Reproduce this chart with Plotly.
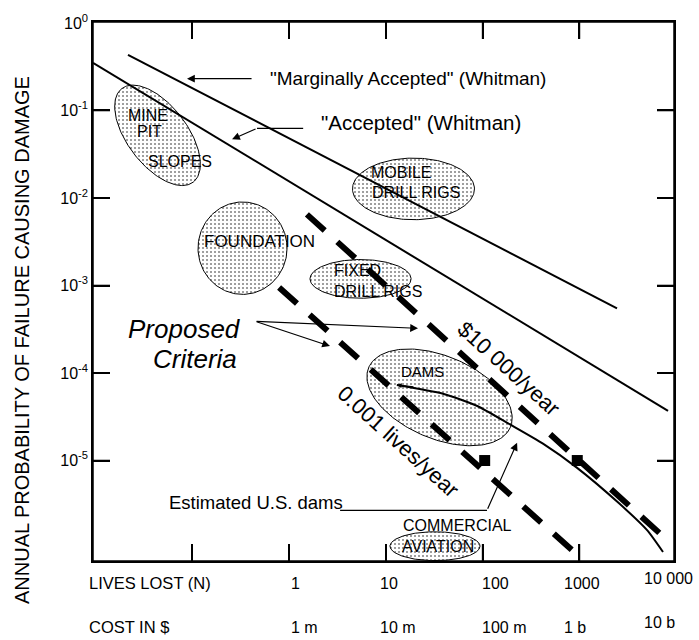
import numpy as np
import plotly.graph_objects as go

# ---------------- data ----------------
y_tick_vals = [1, 1e-1, 1e-2, 1e-3, 1e-4, 1e-5]
y_tick_text = ["10<sup>0</sup>", "10<sup>-1</sup>", "10<sup>-2</sup>",
               "10<sup>-3</sup>", "10<sup>-4</sup>", "10<sup>-5</sup>"]
x_tick_vals = [0.1, 1, 10, 100, 1000]
lives_vals = [1, 10, 100, 1000, 10000]
lives_labels = ["1", "10", "100", "1000", "10 000"]
cost_labels = ["1 m", "10 m", "100 m", "1 b", "10 b"]

# Whitman lines
marg_N = [0.0217, 2445]
marg_P = [0.433, 5.48e-4]
acc_N = [0.00944, 8230]
acc_P = [0.351, 3.70e-5]

# Proposed criteria (dashed)
usd_N = [1.53, 7660]          # $10 000/year
usd_P = [6.5e-3, 1.3e-6]
lives_N = [0.79, 1090]        # 0.001 lives/year
lives_P = [9.5e-4, 7.3e-7]

# Estimated U.S. dams curve
dams_N = [13, 39, 88, 190, 420, 940, 2600, 5000, 7300]
dams_P = [7.3e-5, 5.8e-5, 4.2e-5, 2.6e-5, 1.56e-5, 8.3e-6, 3.2e-6, 1.6e-6, 9.0e-7]

square_N = [105, 950]
square_P = [1e-5, 1e-5]

# shaded regions: centre (N, P), semi-axes (decades), tilt (deg)
region_names = ["mine", "foundation", "mobile", "fixed", "dams", "aviation"]
region_N = [0.0438, 0.331, 19.3, 5.48, 35.9, 32.2]
region_P = [0.052, 2.67e-3, 1.27e-2, 1.19e-3, 5.27e-5, 1.05e-6]
region_a = [0.61, 0.46, 0.63, 0.522, 0.795, 0.465]
region_b = [0.31, 0.48, 0.32, 0.201, 0.429, 0.15]
region_tilt = [53, 0, 0, 0, 23, 0]

# ---------------- figure ----------------
FONT = "Liberation Sans, Arial, Helvetica, sans-serif"
X_RANGE = [-2.025, 3.977]
Y_RANGE = [-6.148, 0.011]
W, H = 699, 640
ML, MR, MT, MB = 93, 25, 19, 79
PW, PH = W - ML - MR, H - MT - MB
px_per_xdec = PW / (X_RANGE[1] - X_RANGE[0])
px_per_ydec = PH / (Y_RANGE[1] - Y_RANGE[0])
k = px_per_xdec / px_per_ydec


def xpaper(v):
    return (np.log10(v) - X_RANGE[0]) / (X_RANGE[1] - X_RANGE[0])


fig = go.Figure()

t = np.linspace(0, 2 * np.pi, 200)
for n, p, a, b, ang in zip(region_N, region_P, region_a, region_b, region_tilt):
    th = np.radians(ang)
    du = a * np.cos(t) * np.cos(th) - b * np.sin(t) * np.sin(th)
    dv = a * np.cos(t) * np.sin(th) + b * np.sin(t) * np.cos(th)
    xs = 10 ** (np.log10(n) + du)
    ys = 10 ** (np.log10(p) - dv * k)
    fig.add_trace(go.Scatter(
        x=xs, y=ys, mode="lines", fill="toself",
        line=dict(color="black", width=1),
        fillcolor="white",
        fillpattern=dict(shape=".", fgcolor="black", bgcolor="white",
                         size=4, solidity=0.2),
        hoverinfo="skip", showlegend=False))

solid = dict(color="black", width=2)
fig.add_trace(go.Scatter(x=marg_N, y=marg_P, mode="lines", line=solid, showlegend=False))
fig.add_trace(go.Scatter(x=acc_N, y=acc_P, mode="lines", line=solid, showlegend=False))
fig.add_trace(go.Scatter(x=dams_N, y=dams_P, mode="lines",
                         line=dict(color="black", width=2, shape="spline", smoothing=0.6),
                         showlegend=False))
dashed = dict(color="black", width=6, dash="24px,17px")
fig.add_trace(go.Scatter(x=usd_N, y=usd_P, mode="lines", line=dashed, showlegend=False))
fig.add_trace(go.Scatter(x=lives_N, y=lives_P, mode="lines", line=dashed, showlegend=False))
fig.add_trace(go.Scatter(x=square_N, y=square_P, mode="markers",
                         marker=dict(symbol="square", size=11, color="black"),
                         showlegend=False))

# leader lines (no arrowhead parts)
thin = dict(color="black", width=1.2)
fig.add_trace(go.Scatter(x=[1.40, 0.467], y=[0.0624, 0.0624], mode="lines", line=thin, showlegend=False))
fig.add_trace(go.Scatter(x=[3.37, 111], y=[2.70e-6, 2.70e-6], mode="lines", line=thin, showlegend=False))

# inward ticks on all four sides, built from tick arrays through the axis scales
TL = 17
xlo, xhi = 10 ** X_RANGE[0], 10 ** X_RANGE[1]
ylo, yhi = 10 ** Y_RANGE[0], 10 ** Y_RANGE[1]
tx, ty = [], []
for v in x_tick_vals:
    tx += [v, v, None, v, v, None]
    ty += [ylo, 10 ** (Y_RANGE[0] + TL / px_per_ydec), None,
           yhi, 10 ** (Y_RANGE[1] - TL / px_per_ydec), None]
for v in y_tick_vals[1:]:
    tx += [xlo, 10 ** (X_RANGE[0] + TL / px_per_xdec), None,
           xhi, 10 ** (X_RANGE[1] - TL / px_per_xdec), None]
    ty += [v, v, None, v, v, None]
fig.add_trace(go.Scatter(x=tx, y=ty, mode="lines", line=dict(color="black", width=1.6),
                         hoverinfo="skip", showlegend=False, cliponaxis=False))

L = np.log10
ann = []


def arrow(tail, tip, size=1.0):
    ann.append(dict(x=L(tip[0]), y=L(tip[1]), ax=L(tail[0]), ay=L(tail[1]),
                    xref="x", yref="y", axref="x", ayref="y", text="",
                    showarrow=True, arrowhead=2, arrowsize=size, arrowwidth=1.2,
                    arrowcolor="black", standoff=0, startstandoff=0))


arrow((0.425, 0.231), (0.0883, 0.231), 1.3)
arrow((0.467, 0.0624), (0.258, 0.0468), 1.3)
arrow((0.446, 3.9e-4), (2.65, 2.03e-4), 1.3)
arrow((0.446, 3.9e-4), (21.5, 3.24e-4), 1.3)
arrow((111, 2.70e-6), (227, 1.6e-5), 1.3)
arrow((20, 6.9e-5), (13, 7.3e-5), 0.8)


def label(txt, n, p, size=16, angle=0, **kw):
    ann.append(dict(x=L(n), y=L(p), xref="x", yref="y", text=txt, showarrow=False,
                    textangle=angle, font=dict(family=FONT, size=size, color="black"), **kw))


label('"Marginally Accepted" (Whitman)', 16.8, 0.231, 19)
label('"Accepted" (Whitman)', 23.1, 0.0731, 20.5)
label("MINE", 0.0349, 0.0877, 16)
label("PIT", 0.0358, 0.0577, 16)
label("SLOPES", 0.0748, 0.0263, 16)
label("FOUNDATION", 0.49, 3.16e-3, 17)
label("MOBILE", 14.4, 0.0197, 16)
label("DRILL RIGS", 20.5, 0.0117, 16)
label("FIXED", 5.04, 1.48e-3, 16)
label("DRILL RIGS", 8.3, 8.55e-4, 16)
label("DAMS", 23.7, 1.05e-4, 15)
label("COMMERCIAL", 54.4, 1.82e-6, 16)
label("AVIATION", 34.6, 1.03e-6, 16)
label("<i>Proposed</i>", 0.0832, 3.16e-4, 26)
label("<i>Criteria</i>", 0.107, 1.44e-4, 26)
label("Estimated U.S. dams", 0.461, 3.33e-6, 18.5)
label("$10 000/year", 187, 1.14e-4, 22, 42)
label("0.001 lives/year", 13.4, 1.64e-5, 22, 42)

# bottom label rows
lives_shift = [0, -8, -3, -17, -34]
lives_yshift = [-22, -22, -22, -22, -17]
cost_yshift = [-66, -66, -66, -66, -61]
for v, lt, ct, xs, ly, cy in zip(lives_vals, lives_labels, cost_labels, lives_shift,
                                 lives_yshift, cost_yshift):
    for txt, ys in ((lt, ly), (ct, cy)):
        ann.append(dict(x=xpaper(v), y=0, xref="paper", yref="paper", text=txt,
                        showarrow=False, xanchor="left", yanchor="middle",
                        xshift=xs, yshift=ys,
                        font=dict(family=FONT, size=16, color="black")))
ann.append(dict(x=0, y=0, xref="paper", yref="paper", text="LIVES LOST (N)", showarrow=False,
                xanchor="left", yanchor="middle", xshift=-6, yshift=-22,
                font=dict(family=FONT, size=16.5, color="black")))
ann.append(dict(x=0, y=0, xref="paper", yref="paper", text="COST IN $", showarrow=False,
                xanchor="left", yanchor="middle", xshift=-6, yshift=-66,
                font=dict(family=FONT, size=16.5, color="black")))
ann.append(dict(x=0, y=0.41, xref="paper", yref="paper",
                text="ANNUAL PROBABILITY OF FAILURE CAUSING DAMAGE", showarrow=False,
                textangle=-90, xanchor="center", yanchor="middle", xshift=-71,
                font=dict(family=FONT, size=20, color="black")))

shapes = [dict(type="rect", xref="paper", yref="paper", x0=0, y0=0, x1=1, y1=1,
               line=dict(color="black", width=1.5), layer="above")]

axis_common = dict(type="log", showgrid=False, zeroline=False, showline=True,
                   linecolor="black", linewidth=1.5, mirror="ticks", ticks="inside",
                   ticklen=TL, tickwidth=1.5, tickcolor="black")

fig.update_layout(
    width=W, height=H, margin=dict(l=ML, r=MR, t=MT, b=MB),
    plot_bgcolor="white", paper_bgcolor="white", showlegend=False,
    xaxis=dict(range=X_RANGE, tickvals=x_tick_vals, showticklabels=False, **axis_common),
    yaxis=dict(range=Y_RANGE, tickvals=y_tick_vals, ticktext=y_tick_text,
               tickfont=dict(family=FONT, size=16, color="black"), **axis_common),
    annotations=ann,
    shapes=shapes,
)

fig.write_html("out.html", config={"displayModeBar": False},
               post_script="document.body.style.margin='0px';document.body.style.padding='0px';")
